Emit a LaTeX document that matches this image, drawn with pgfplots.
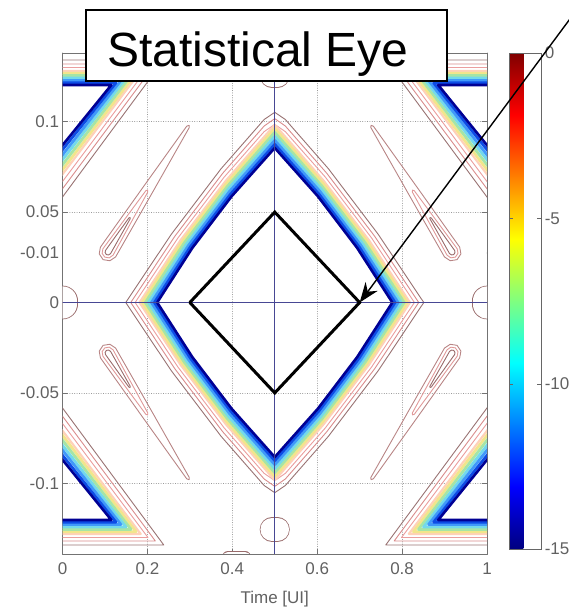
\documentclass[border=0pt]{standalone}
\usepackage{pgfplots}
\pgfplotsset{compat=1.18}
\usetikzlibrary{arrows.meta}
\usepackage{fontspec}
\setmainfont{Liberation Sans}

\definecolor{cA}{rgb}{0,0,0.58}
\definecolor{cB}{rgb}{0.05,0.3,0.9}
\definecolor{cC}{rgb}{0.25,0.6,0.98}
\definecolor{cD}{rgb}{0.45,0.85,0.92}
\definecolor{cE}{rgb}{0.65,0.9,0.65}
\definecolor{cF}{rgb}{0.95,0.9,0.55}
\definecolor{cG}{rgb}{1.0,0.82,0.72}
\definecolor{cH}{rgb}{0.92,0.62,0.62}
\definecolor{cI}{rgb}{0.85,0.55,0.55}
\definecolor{cJ}{rgb}{0.6,0.45,0.45}
\definecolor{fo}{rgb}{0.72,0.52,0.52}
\definecolor{fm}{rgb}{0.88,0.6,0.6}
\definecolor{fi}{rgb}{0.6,0.42,0.42}
\definecolor{crossc}{rgb}{0.28,0.28,0.58}
\definecolor{lab}{rgb}{0.38,0.38,0.38}

\begin{document}
\begin{tikzpicture}
\path[use as bounding box] (0,0) rectangle (569pt,610pt);
\begin{axis}[
  at={(62.5pt,56pt)}, anchor=south west,
  scale only axis, width=424.5pt, height=501pt,
  xmin=0, xmax=1, ymin=-0.1391, ymax=0.1380,
  xtick={0,0.2,0.4,0.6,0.8,1}, xticklabels={0,0.2,0.4,0.6,0.8,1},
  ytick={-0.1,-0.05,0,0.05,0.1}, yticklabels={-0.1,-0.05,0,0.05,0.1},
  extra y ticks={0.0274}, extra y tick labels={-0.01},
  extra y tick style={grid=none, major tick length=0pt},
  grid=major, grid style={dotted, black!40, line width=0.6pt},
  tick align=inside, major tick length=5pt,
  xtick pos=both, ytick pos=both,
  xticklabel pos=left, yticklabel pos=left,
  axis line style={black!55, line width=0.9pt},
  tick style={black!55, line width=0.8pt},
  ticklabel style={font=\fontsize{17}{17}\selectfont, text=lab},
  xticklabel style={yshift=-5pt},
  xlabel={Time [UI]}, xlabel style={font=\fontsize{17}{17}\selectfont, text=lab, yshift=-10pt},
  unbounded coords=jump,
  line join=round, line cap=round,
  colorbar, colormap/jet, point meta min=-15, point meta max=0,
  colorbar style={
    at={(parent axis.north east)}, anchor=north west, xshift=13.7pt,
    scale only axis, width=32pt, height=496pt,
    ytick={-15,-10,-5,0}, yticklabels={-15,-10,-5,0},
    yticklabel style={font=\fontsize{17}{17}\selectfont, text=lab},
    axis line style={black!60}, tick align=inside, major tick length=4pt,
    tick style={black!60},
    ytick pos=both, yticklabel pos=right,
  },
]
% ---- contour bands, outer to inner ----
\addplot[cJ, line width=0.9pt] coordinates {
(0.1489,0) (0.2565,0.0378) (0.3736,0.0740) (0.475,0.1012) (0.5,0.1052) (0.525,0.1012) (0.6264,0.0740) (0.7435,0.0378) (0.8511,0) (0.7435,-0.0378) (0.6264,-0.0740) (0.525,-0.1012) (0.5,-0.1052) (0.475,-0.1012) (0.3736,-0.0740) (0.2565,-0.0378) (0.1489,0)
(nan,nan) (-0.03,0.0488) (0.2385,0.1341) (-0.03,0.1341)
(nan,nan) (1.03,0.0488) (0.7615,0.1341) (1.03,0.1341)
(nan,nan) (-0.03,-0.0488) (0.2385,-0.1341) (-0.03,-0.1341)
(nan,nan) (1.03,-0.0488) (0.7615,-0.1341) (1.03,-0.1341)
};
\addplot[cI, line width=0.9pt] coordinates {
(0.1608,0) (0.2645,0.0366) (0.3775,0.0715) (0.475,0.0976) (0.5,0.1017) (0.525,0.0976) (0.6225,0.0715) (0.7355,0.0366) (0.8392,0) (0.7355,-0.0366) (0.6225,-0.0715) (0.525,-0.0976) (0.5,-0.1017) (0.475,-0.0976) (0.3775,-0.0715) (0.2645,-0.0366) (0.1608,0)
(nan,nan) (-0.03,0.0534) (0.2187,0.1319) (-0.03,0.1319)
(nan,nan) (1.03,0.0534) (0.7813,0.1319) (1.03,0.1319)
(nan,nan) (-0.03,-0.0534) (0.2187,-0.1319) (-0.03,-0.1319)
(nan,nan) (1.03,-0.0534) (0.7813,-0.1319) (1.03,-0.1319)
};
\addplot[cH, line width=0.9pt] coordinates {
(0.1711,0) (0.2713,0.0355) (0.3810,0.0694) (0.475,0.0945) (0.5,0.0985) (0.525,0.0945) (0.6190,0.0694) (0.7287,0.0355) (0.8289,0) (0.7287,-0.0355) (0.6190,-0.0694) (0.525,-0.0945) (0.5,-0.0985) (0.475,-0.0945) (0.3810,-0.0694) (0.2713,-0.0355) (0.1711,0)
(nan,nan) (-0.03,0.0575) (0.2014,0.1300) (-0.03,0.1300)
(nan,nan) (1.03,0.0575) (0.7986,0.1300) (1.03,0.1300)
(nan,nan) (-0.03,-0.0575) (0.2014,-0.1300) (-0.03,-0.1300)
(nan,nan) (1.03,-0.0575) (0.7986,-0.1300) (1.03,-0.1300)
};
\addplot[cG, line width=2.2pt] coordinates {
(0.1815,0) (0.2783,0.0345) (0.3844,0.0672) (0.5,0.0983) (0.6156,0.0672) (0.7217,0.0345) (0.8185,0) (0.7217,-0.0345) (0.6156,-0.0672) (0.5,-0.0983) (0.3844,-0.0672) (0.2783,-0.0345) (0.1815,0)
(nan,nan) (-0.03,0.0616) (0.1841,0.1280) (-0.03,0.1280)
(nan,nan) (1.03,0.0616) (0.8159,0.1280) (1.03,0.1280)
(nan,nan) (-0.03,-0.0616) (0.1841,-0.1280) (-0.03,-0.1280)
(nan,nan) (1.03,-0.0616) (0.8159,-0.1280) (1.03,-0.1280)
};
\addplot[cF, line width=2.8pt] coordinates {
(0.1880,0) (0.2826,0.0338) (0.3866,0.0659) (0.5,0.0963) (0.6134,0.0659) (0.7174,0.0338) (0.8120,0) (0.7174,-0.0338) (0.6134,-0.0659) (0.5,-0.0963) (0.3866,-0.0659) (0.2826,-0.0338) (0.1880,0)
(nan,nan) (-0.03,0.0642) (0.1733,0.1268) (-0.03,0.1268)
(nan,nan) (1.03,0.0642) (0.8267,0.1268) (1.03,0.1268)
(nan,nan) (-0.03,-0.0642) (0.1733,-0.1268) (-0.03,-0.1268)
(nan,nan) (1.03,-0.0642) (0.8267,-0.1268) (1.03,-0.1268)
};
\addplot[cE, line width=2.8pt] coordinates {
(0.1951,0) (0.2873,0.0331) (0.3890,0.0644) (0.5,0.0941) (0.6110,0.0644) (0.7127,0.0331) (0.8049,0) (0.7127,-0.0331) (0.6110,-0.0644) (0.5,-0.0941) (0.3890,-0.0644) (0.2873,-0.0331) (0.1951,0)
(nan,nan) (-0.03,0.0670) (0.1614,0.1255) (-0.03,0.1255)
(nan,nan) (1.03,0.0670) (0.8386,0.1255) (1.03,0.1255)
(nan,nan) (-0.03,-0.0670) (0.1614,-0.1255) (-0.03,-0.1255)
(nan,nan) (1.03,-0.0670) (0.8386,-0.1255) (1.03,-0.1255)
};
\addplot[cD, line width=2.8pt] coordinates {
(0.2023,0) (0.2921,0.0323) (0.3914,0.0630) (0.5,0.0919) (0.6086,0.0630) (0.7079,0.0323) (0.7977,0) (0.7079,-0.0323) (0.6086,-0.0630) (0.5,-0.0919) (0.3914,-0.0630) (0.2921,-0.0323) (0.2023,0)
(nan,nan) (-0.03,0.0699) (0.1496,0.1242) (-0.03,0.1242)
(nan,nan) (1.03,0.0699) (0.8504,0.1242) (1.03,0.1242)
(nan,nan) (-0.03,-0.0699) (0.1496,-0.1242) (-0.03,-0.1242)
(nan,nan) (1.03,-0.0699) (0.8504,-0.1242) (1.03,-0.1242)
};
\addplot[cC, line width=2.8pt] coordinates {
(0.2094,0) (0.2969,0.0316) (0.3937,0.0615) (0.5,0.0897) (0.6063,0.0615) (0.7031,0.0316) (0.7906,0) (0.7031,-0.0316) (0.6063,-0.0615) (0.5,-0.0897) (0.3937,-0.0615) (0.2969,-0.0316) (0.2094,0)
(nan,nan) (-0.03,0.0727) (0.1377,0.1228) (-0.03,0.1228)
(nan,nan) (1.03,0.0727) (0.8623,0.1228) (1.03,0.1228)
(nan,nan) (-0.03,-0.0727) (0.1377,-0.1228) (-0.03,-0.1228)
(nan,nan) (1.03,-0.0727) (0.8623,-0.1228) (1.03,-0.1228)
};
\addplot[cB, line width=2.8pt] coordinates {
(0.2165,0) (0.3016,0.0309) (0.3961,0.0600) (0.5,0.0875) (0.6039,0.0600) (0.6984,0.0309) (0.7835,0) (0.6984,-0.0309) (0.6039,-0.0600) (0.5,-0.0875) (0.3961,-0.0600) (0.3016,-0.0309) (0.2165,0)
(nan,nan) (-0.03,0.0757) (0.1259,0.1215) (-0.03,0.1215)
(nan,nan) (1.03,0.0757) (0.8741,0.1215) (1.03,0.1215)
(nan,nan) (-0.03,-0.0757) (0.1259,-0.1215) (-0.03,-0.1215)
(nan,nan) (1.03,-0.0757) (0.8741,-0.1215) (1.03,-0.1215)
};
\addplot[cA, line width=2.6pt] coordinates {
(0.2230,0) (0.3059,0.0302) (0.3983,0.0587) (0.5,0.0855) (0.6017,0.0587) (0.6941,0.0302) (0.7770,0) (0.6941,-0.0302) (0.6017,-0.0587) (0.5,-0.0855) (0.3983,-0.0587) (0.3059,-0.0302) (0.2230,0)
(nan,nan) (-0.03,0.0783) (0.1150,0.1203) (-0.03,0.1203)
(nan,nan) (1.03,0.0783) (0.8850,0.1203) (1.03,0.1203)
(nan,nan) (-0.03,-0.0783) (0.1150,-0.1203) (-0.03,-0.1203)
(nan,nan) (1.03,-0.0783) (0.8850,-0.1203) (1.03,-0.1203)
};
% ---- tapered closed contours between the eyes ----
\addplot[fo, line width=0.9pt] coordinates {
(0.2982,0.0980) (0.2926,0.0975) (0.1908,0.0641) (0.0893,0.0306) (0.0865,0.0269) (0.0956,0.0237) (0.1117,0.0231) (0.1251,0.0252) (0.2120,0.0609) (0.2987,0.0968) (0.2982,0.0980)
(nan,nan)
(0.2982,-0.0980) (0.2926,-0.0975) (0.1908,-0.0641) (0.0893,-0.0306) (0.0865,-0.0269) (0.0956,-0.0237) (0.1117,-0.0231) (0.1251,-0.0252) (0.2120,-0.0609) (0.2987,-0.0968) (0.2982,-0.0980)
(nan,nan)
(0.7268,0.0980) (0.7324,0.0975) (0.8342,0.0641) (0.9357,0.0306) (0.9385,0.0269) (0.9294,0.0237) (0.9133,0.0231) (0.8999,0.0252) (0.8130,0.0609) (0.7263,0.0968) (0.7268,0.0980)
(nan,nan)
(0.7268,-0.0980) (0.7324,-0.0975) (0.8342,-0.0641) (0.9357,-0.0306) (0.9385,-0.0269) (0.9294,-0.0237) (0.9133,-0.0231) (0.8999,-0.0252) (0.8130,-0.0609) (0.7263,-0.0968) (0.7268,-0.0980)
};
\addplot[fm, line width=0.9pt] coordinates {
(0.2005,0.0622) (0.1962,0.0618) (0.0952,0.0297) (0.0933,0.0272) (0.0996,0.0251) (0.1102,0.0247) (0.1192,0.0262) (0.2009,0.0611) (0.2005,0.0622)
(nan,nan)
(0.2005,-0.0622) (0.1962,-0.0618) (0.0952,-0.0297) (0.0933,-0.0272) (0.0996,-0.0251) (0.1102,-0.0247) (0.1192,-0.0262) (0.2009,-0.0611) (0.2005,-0.0622)
(nan,nan)
(0.8245,0.0622) (0.8288,0.0618) (0.9298,0.0297) (0.9317,0.0272) (0.9254,0.0251) (0.9148,0.0247) (0.9058,0.0262) (0.8241,0.0611) (0.8245,0.0622)
(nan,nan)
(0.8245,-0.0622) (0.8288,-0.0618) (0.9298,-0.0297) (0.9317,-0.0272) (0.9254,-0.0251) (0.9148,-0.0247) (0.9058,-0.0262) (0.8241,-0.0611) (0.8245,-0.0622)
};
\addplot[fi, line width=0.9pt] coordinates {
(0.1592,0.0470) (0.1564,0.0468) (0.1013,0.0288) (0.1004,0.0276) (0.1034,0.0265) (0.1086,0.0263) (0.1131,0.0270) (0.1597,0.0464) (0.1592,0.0470)
(nan,nan)
(0.1592,-0.0470) (0.1564,-0.0468) (0.1013,-0.0288) (0.1004,-0.0276) (0.1034,-0.0265) (0.1086,-0.0263) (0.1131,-0.0270) (0.1597,-0.0464) (0.1592,-0.0470)
(nan,nan)
(0.8658,0.0470) (0.8686,0.0468) (0.9237,0.0288) (0.9246,0.0276) (0.9216,0.0265) (0.9164,0.0263) (0.9119,0.0270) (0.8653,0.0464) (0.8658,0.0470)
(nan,nan)
(0.8658,-0.0470) (0.8686,-0.0468) (0.9237,-0.0288) (0.9246,-0.0276) (0.9216,-0.0265) (0.9164,-0.0263) (0.9119,-0.0270) (0.8653,-0.0464) (0.8658,-0.0470)
};
% ---- small islands ----
\addplot[fi, line width=25pt] coordinates {(0.494,-0.1255) (0.506,-0.1255)};
\addplot[white, line width=23.6pt] coordinates {(0.494,-0.1255) (0.506,-0.1255)};
\addplot[fi, line width=25pt] coordinates {(0.494,0.1255) (0.506,0.1255)};
\addplot[white, line width=23.6pt] coordinates {(0.494,0.1255) (0.506,0.1255)};
\addplot[fi, line width=30pt] coordinates {(0,-0.001) (0,0.001)};
\addplot[white, line width=28.6pt] coordinates {(0,-0.001) (0,0.001)};
\addplot[fi, line width=30pt] coordinates {(1,-0.001) (1,0.001)};
\addplot[white, line width=28.6pt] coordinates {(1,-0.001) (1,0.001)};
\addplot[fi, line width=12pt] coordinates {(0.39,-0.1408) (0.43,-0.1408)};
\addplot[white, line width=10.6pt] coordinates {(0.39,-0.1408) (0.43,-0.1408)};
% ---- cross lines ----
\addplot[crossc, line width=1pt] coordinates {(-0.1,0) (1.1,0)};
\addplot[crossc, line width=1pt] coordinates {(0.5,-0.2) (0.5,0.2)};
% ---- mask ----
\addplot[black, line width=3pt, line join=miter] coordinates {(0.3,0) (0.5,0.05) (0.7,0) (0.5,-0.05) (0.3,0)};
\end{axis}
\draw[line width=1.5pt, fill=white] (86pt,529pt) rectangle (447pt,600pt);
\node[anchor=base west, inner sep=0pt, font=\fontsize{48}{48}\selectfont] at (107pt,543pt) {Statistical Eye};
\draw[line width=1.4pt, -{Stealth[length=20pt,width=15pt]}] (584pt,610pt) -- (359.7pt,307.5pt);
\end{tikzpicture}
\end{document}
